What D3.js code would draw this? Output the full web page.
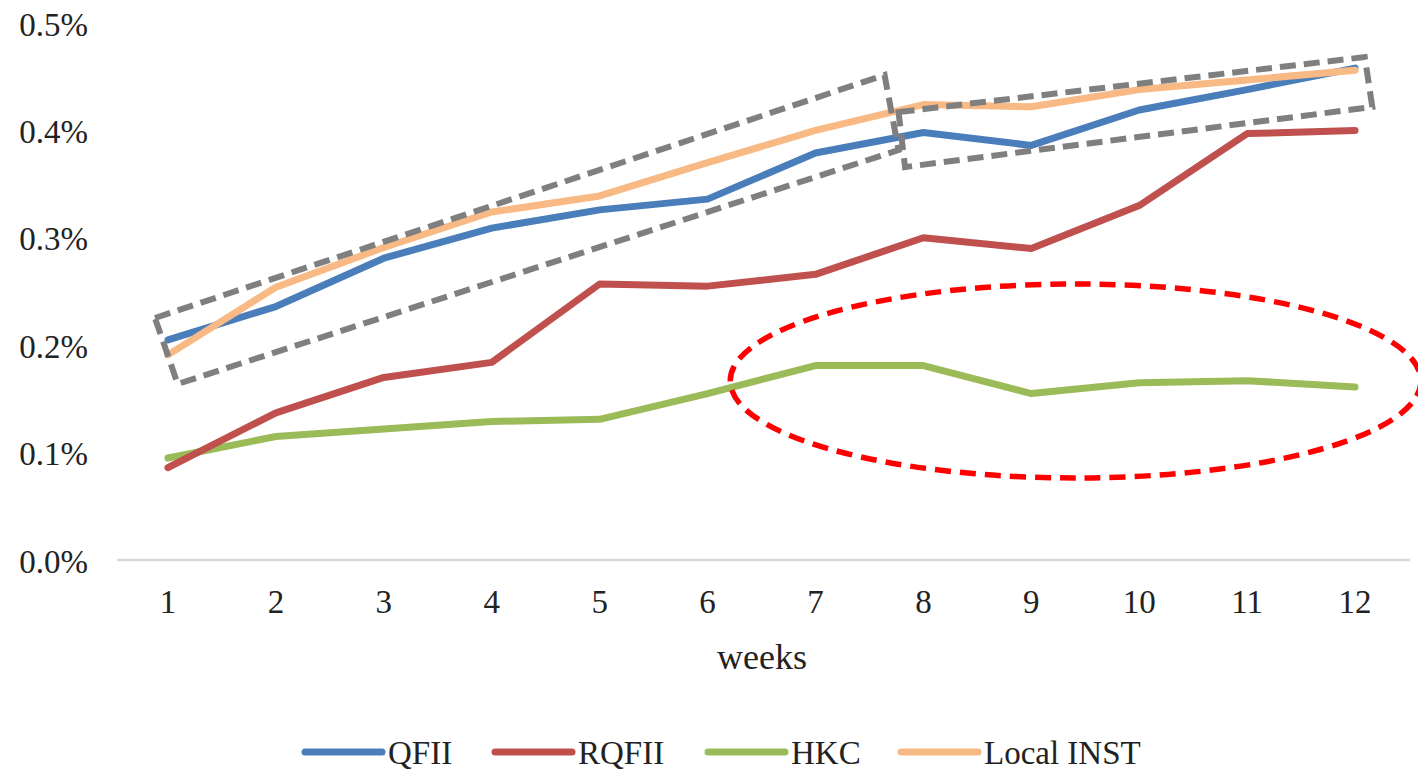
<!DOCTYPE html>
<html><head><meta charset="utf-8">
<script src="https://cdn.jsdelivr.net/npm/d3@7"></script>
<style>body{margin:0;background:#fff}svg{display:block}text{font-family:"Liberation Serif","Times New Roman",serif;fill:#222}</style>
</head><body>
<svg id="c" width="1418" height="771"></svg>
<script>
const weeks = [1,2,3,4,5,6,7,8,9,10,11,12];
const qfii   = [0.205,0.236,0.281,0.309,0.326,0.336,0.379,0.398,0.386,0.419,0.438,0.458];
const rqfii  = [0.086,0.137,0.170,0.184,0.257,0.255,0.266,0.300,0.290,0.330,0.397,0.400];
const hkc    = [0.095,0.115,0.122,0.129,0.131,0.155,0.181,0.181,0.155,0.165,0.167,0.161];
const local  = [0.191,0.254,0.291,0.324,0.339,0.370,0.400,0.424,0.422,0.438,0.447,0.456];
const seriesNames = ["QFII","RQFII","HKC","Local INST"];
const yTicks = [0,0.1,0.2,0.3,0.4,0.5];
// annotation shapes in data units (week, %)
const box1 = [[0.88,0.2253],[7.64,0.4516],[7.77,0.3817],[1.09,0.1639]];
const box2 = [[7.77,0.4171],[12.09,0.4683],[12.16,0.4218],[7.83,0.3659]];
const ellipse = {cx:9.41, cy:0.1667, rx:3.2, ry:0.0903};

const colors = ["#4a7ebb","#c0504d","#9bbb59","#f9b985"];
const data = [qfii,rqfii,hkc,local];
const svg = d3.select("#c");
const x = d3.scaleLinear().domain([0.5,12.5]).range([114,1409]);
const y = d3.scaleLinear().domain([0,0.5]).range([560,23]);

// axis line
svg.append("line").attr("x1",117).attr("x2",1410).attr("y1",y(0)).attr("y2",y(0))
  .attr("stroke","#d9d9d9").attr("stroke-width",2.5);

// y tick labels
svg.append("g").selectAll("text").data(yTicks).join("text")
  .attr("x",88).attr("y",d=>y(d)+1).attr("dy","0.35em").attr("text-anchor","end")
  .attr("font-size",33).text(d=>d.toFixed(1)+"%");

// x tick labels
svg.append("g").selectAll("text").data(weeks).join("text")
  .attr("x",d=>x(d)).attr("y",601).attr("dy","0.35em").attr("text-anchor","middle")
  .attr("font-size",33).text(d=>d);

svg.append("text").attr("x",762).attr("y",656).attr("dy","0.35em").attr("text-anchor","middle")
  .attr("font-size",36).text("weeks");

// series lines (order: QFII, RQFII, HKC, Local)
const line = d3.line().x((d,i)=>x(weeks[i])).y(d=>y(d));
const drawOrder = [2,1,0,3];
drawOrder.forEach(k=>{
  svg.append("path").datum(data[k]).attr("d",line).attr("fill","none")
    .attr("stroke",colors[k]).attr("stroke-width",7).attr("stroke-linejoin","round").attr("stroke-linecap","round");
});

// annotations
const poly = d3.line().x(d=>x(d[0])).y(d=>y(d[1])).curve(d3.curveLinearClosed);
[box1,box2].forEach(b=>{
  svg.append("path").attr("d",poly(b)).attr("fill","none").attr("stroke","#7f7f7f")
    .attr("stroke-width",6).attr("stroke-dasharray","16,8");
});
const pxPerWeek = x(1)-x(0), pxPerVal = y(0)-y(0.1);
svg.append("ellipse").attr("cx",x(ellipse.cx)).attr("cy",y(ellipse.cy))
  .attr("rx",ellipse.rx*pxPerWeek).attr("ry",ellipse.ry/0.1*pxPerVal)
  .attr("fill","none").attr("stroke","#ff0000").attr("stroke-width",5.5).attr("stroke-dasharray","16,9");

// legend
const legX = [302,492,705,898];
const lg = svg.append("g").selectAll("g").data(seriesNames).join("g")
  .attr("transform",(d,i)=>`translate(${legX[i]},752)`);
lg.append("line").attr("x1",3).attr("x2",80).attr("stroke",(d,i)=>colors[i])
  .attr("stroke-width",7).attr("stroke-linecap","round");
lg.append("text").attr("x",86).attr("dy","0.35em").attr("font-size",33).text(d=>d);
</script>
</body></html>
